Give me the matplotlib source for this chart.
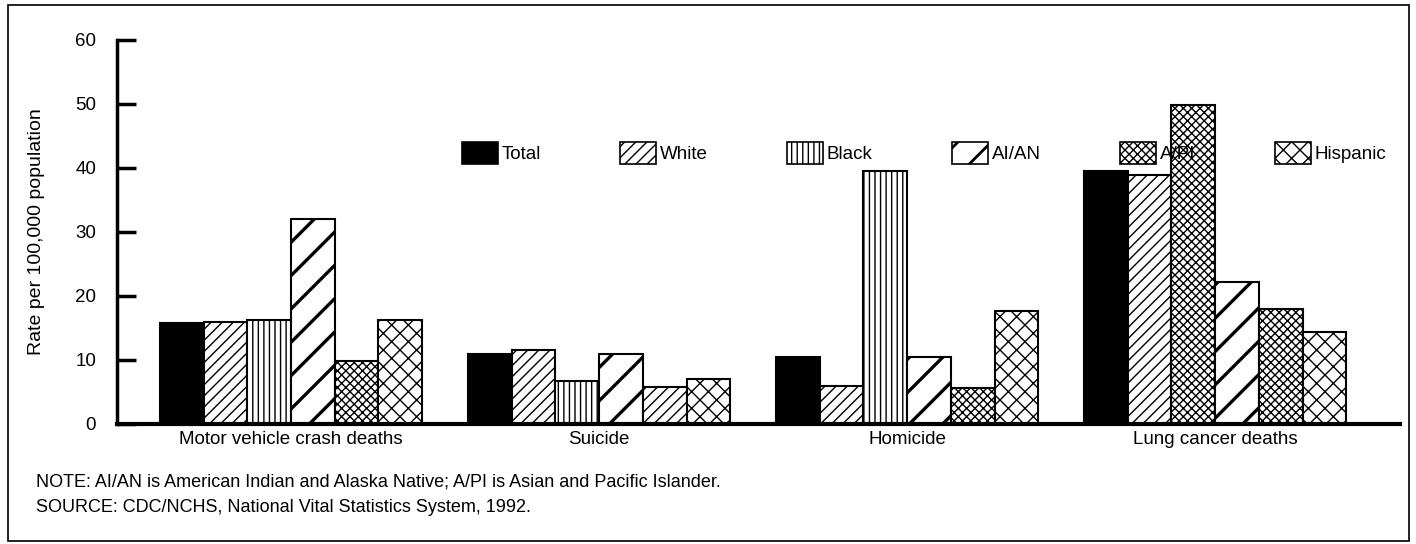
import numpy as np
import matplotlib.pyplot as plt
from matplotlib.patches import Rectangle

plt.rcParams['font.family'] = ['Liberation Sans', 'DejaVu Sans']

categories = ['Motor vehicle crash deaths', 'Suicide', 'Homicide', 'Lung cancer deaths']
groups = ['Total', 'White', 'Black', 'AI/AN', 'A/PI', 'Hispanic']

total = [15.8, 11.0, 10.5, 39.6]
white = [15.9, 11.6, 6.0, 38.9]
black = [16.2, 6.7, 39.6, 49.9]
aian = [32.0, 10.9, 10.5, 22.2]
api = [9.9, 5.8, 5.6, 17.9]
hispanic = [16.2, 7.0, 17.6, 14.3]
series = [total, white, black, aian, api, hispanic]

# hatch per series, plus a couple of odd bars in the original
hatches = ['', '///', '|||', '/', 'xxxx', 'xx']
hatch_lw = [1, 1, 1, 2.4, 1, 1]
odd_hatch = {(2, 3): 'xxxx', (4, 1): '///'}

fs = 13.5

fig = plt.figure(figsize=(14.16, 5.44), dpi=100)
fig.patches.append(Rectangle((0.006, 0.006), 0.989, 0.985, transform=fig.transFigure,
                             fill=False, lw=1.2, ec='black'))

ax = fig.add_axes([0.0826, 0.2206, 0.9061, 0.7059])

x = np.arange(len(categories))
w = 0.142
for i, (vals, h) in enumerate(zip(series, hatches)):
    pos = x + (i - 2.5) * w
    bars = ax.bar(pos, vals, w, color='black' if i == 0 else 'white',
                  edgecolor='black', lw=1.5, hatch=h, label=groups[i])
    for j, b in enumerate(bars):
        if (i, j) in odd_hatch:
            b.set_hatch(odd_hatch[(i, j)])
            b.set_hatch_linewidth(1)
        else:
            b.set_hatch_linewidth(hatch_lw[i])

ax.set_xlim(-0.565, 3.6)
ax.set_ylim(0, 60)
ax.set_yticks(range(0, 61, 10))
ax.set_xticks(x)
ax.set_xticklabels(categories, fontsize=fs)
ax.tick_params(axis='y', direction='in', length=14, width=2.5, pad=15, labelsize=fs)
ax.tick_params(axis='x', length=0, pad=5)
for s in ['top', 'right']:
    ax.spines[s].set_visible(False)
ax.spines['left'].set_linewidth(2.5)
ax.spines['bottom'].set_linewidth(3)
ax.set_ylabel('Rate per 100,000 population', fontsize=14, labelpad=22)

leg = fig.legend(loc='center left', bbox_to_anchor=(462 / 1416, 1 - 153 / 544),
                 ncol=6, frameon=False, fontsize=fs, handlelength=1.9,
                 handleheight=1.4, handletextpad=0.2, columnspacing=4.25,
                 borderpad=0, borderaxespad=0)
for p, hl in zip(leg.get_patches(), hatch_lw):
    p.set_linewidth(1.2)
    p.set_hatch_linewidth(min(hl, 2))

fig.text(36 / 1416, 1 - 482 / 544, 'NOTE: AI/AN is American Indian and Alaska Native; A/PI is Asian and Pacific Islander.',
         fontsize=13, va='center')
fig.text(36 / 1416, 1 - 508 / 544, 'SOURCE: CDC/NCHS, National Vital Statistics System, 1992.',
         fontsize=13, va='center')

fig.savefig('out.png', dpi=100)
